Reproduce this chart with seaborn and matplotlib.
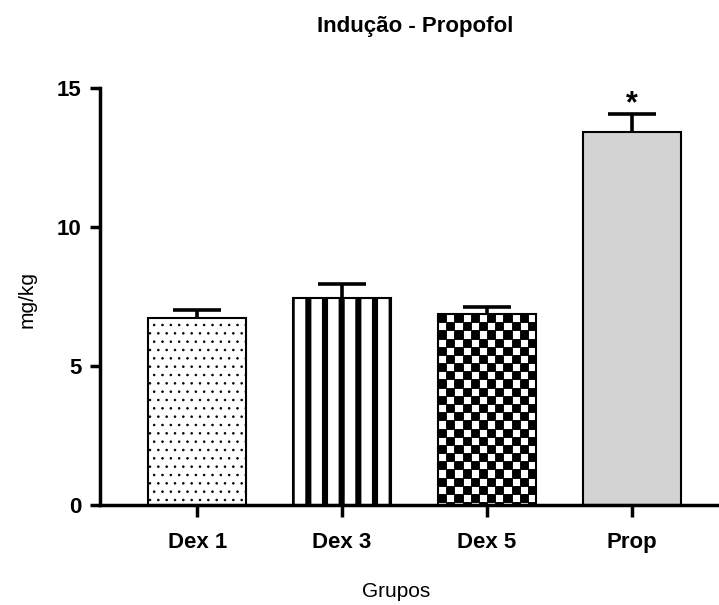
import numpy as np
import pandas as pd
import matplotlib
matplotlib.use("Agg")
import matplotlib.pyplot as plt
from matplotlib.colors import ListedColormap
import seaborn as sns

# ---- data ----
groups = ["Dex 1", "Dex 3", "Dex 5", "Prop"]
means = [6.73, 7.45, 6.87, 13.42]
sems = [0.30, 0.50, 0.27, 0.64]
yticks = [0, 5, 10, 15]
title = "Indução - Propofol"
xlabel = "Grupos"
ylabel = "mg/kg"
star = "*"

# ---- style ----
fills = ["white", "white", "white", "#d3d3d3"]
hatches = ["..", "|", None, None]

sns.set_theme(style="white")
plt.rcParams["font.family"] = ["Liberation Sans", "DejaVu Sans"]
plt.rcParams["hatch.color"] = "black"

W, H = 719, 605
fig = plt.figure(figsize=(W / 100, H / 100), dpi=100)
ax_l, ax_r, ax_b, ax_t = 100, 719, 505, 88
ax = fig.add_axes([ax_l / W, 1 - ax_b / H, (ax_r - ax_l) / W, (ax_b - ax_t) / H])

df = pd.DataFrame({"Grupo": groups, "mg/kg": means})
sns.barplot(data=df, x="Grupo", y="mg/kg", hue="Grupo", palette=fills,
            saturation=1, legend=False, width=0.677, edgecolor="black",
            linewidth=1.5, errorbar=None, ax=ax, zorder=2)

ax.set_xlim(-0.67, 3.6)
ax.set_ylim(0, 15)

bars = list(ax.patches)
for p, h in zip(bars, hatches):
    if h:
        p.set_hatch(h)
        if hasattr(p, "set_hatch_linewidth"):
            p.set_hatch_linewidth(4.4 if h == "|" else 0.6)

# checkerboard fill for Dex 5 (square cells sized in display pixels)
fig.canvas.draw()
cb = bars[2]
ext = cb.get_window_extent()
nx = 12
sq_px = ext.width / nx
x0 = cb.get_x()
x1 = x0 + cb.get_width()
y1 = cb.get_y() + cb.get_height()
sq_data_y = sq_px * cb.get_height() / ext.height
ny = int(np.ceil(ext.height / sq_px))
xe = np.linspace(x0, x1, nx + 1)
ye = y1 - sq_data_y * np.arange(ny + 1)[::-1]
checker = (np.add.outer(np.arange(ny), np.arange(nx)) % 2)[::-1]
checker = np.ma.masked_where(checker == 1, checker)
mesh = ax.pcolormesh(xe, ye, checker, cmap=ListedColormap(["black"]),
                     vmin=0, vmax=1, antialiased=True, zorder=2.1,
                     edgecolors="black", linewidth=0.5)
mesh.set_clip_path(cb)
ax.set_xlim(-0.67, 3.6)
ax.set_ylim(0, 15)

# error bars (upper only)
centers = [p.get_x() + p.get_width() / 2 for p in bars]
eb = ax.errorbar(centers, means, yerr=[np.zeros(len(means)), sems], fmt="none",
                 ecolor="black", elinewidth=2.6, capsize=17, capthick=2.6,
                 zorder=1.5)
if len(eb[1]) == 2:
    eb[1][0].set_visible(False)

# significance marker
ax.text(centers[3], means[3] + sems[3] + 0.08, star, ha="center", va="baseline",
        fontsize=22, fontweight="bold", color="black")

# axes styling
for s in ["top", "right"]:
    ax.spines[s].set_visible(False)
for s in ["left", "bottom"]:
    ax.spines[s].set_linewidth(2.5)
    ax.spines[s].set_color("black")

ax.set_yticks(yticks)
ax.set_yticklabels([str(v) for v in yticks], fontsize=16, fontweight="bold")
ax.set_xticks(range(len(groups)))
ax.set_xticklabels(groups, fontsize=16, fontweight="bold")
ax.tick_params(axis="y", direction="out", length=7, width=2.5, pad=6.5,
               colors="black", left=True)
ax.tick_params(axis="x", direction="out", length=8.5, width=2.5, pad=11,
               colors="black", bottom=True)

ax.set_xlabel(xlabel, fontsize=15, color="black")
ax.xaxis.label.set_va("baseline")
ax.xaxis.set_label_coords((396 - ax_l) / (ax_r - ax_l), -(597 - ax_b) / (ax_b - ax_t))
ax.set_ylabel(ylabel, fontsize=15, color="black")
ax.yaxis.label.set_va("center")
ax.yaxis.set_label_coords((27 - ax_l) / (ax_r - ax_l), (ax_b - 300) / (ax_b - ax_t))

fig.text(415 / W, 1 - 32 / H, title, ha="center", va="baseline",
         fontsize=16, fontweight="bold", color="black")

fig.savefig("out.png", dpi=100)
